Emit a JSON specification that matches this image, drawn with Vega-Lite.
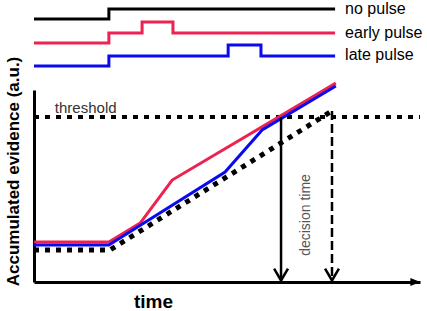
{
  "$schema": "https://vega.github.io/schema/vega-lite/v6.json",
  "width": 386,
  "height": 192,
  "autosize": "none",
  "padding": {"left": 34, "top": 90, "right": 7, "bottom": 29},
  "background": "white",
  "config": {"view": {"stroke": null}, "font": "Liberation Sans"},
  "datasets": {
    "pulses": [
      {"trace": "no pulse", "i": 0, "t": 0, "e": 137.0},
      {"trace": "no pulse", "i": 1, "t": 19.4, "e": 137.0},
      {"trace": "no pulse", "i": 2, "t": 19.4, "e": 142.2},
      {"trace": "no pulse", "i": 3, "t": 78.0, "e": 142.2},
      {"trace": "early pulse", "i": 0, "t": 0, "e": 124.5},
      {"trace": "early pulse", "i": 1, "t": 19.4, "e": 124.5},
      {"trace": "early pulse", "i": 2, "t": 19.4, "e": 129.7},
      {"trace": "early pulse", "i": 3, "t": 28.0, "e": 129.7},
      {"trace": "early pulse", "i": 4, "t": 28.0, "e": 135.4},
      {"trace": "early pulse", "i": 5, "t": 36.0, "e": 135.4},
      {"trace": "early pulse", "i": 6, "t": 36.0, "e": 129.7},
      {"trace": "early pulse", "i": 7, "t": 78.0, "e": 129.7},
      {"trace": "late pulse", "i": 0, "t": 0, "e": 112.5},
      {"trace": "late pulse", "i": 1, "t": 19.4, "e": 112.5},
      {"trace": "late pulse", "i": 2, "t": 19.4, "e": 117.7},
      {"trace": "late pulse", "i": 3, "t": 50.3, "e": 117.7},
      {"trace": "late pulse", "i": 4, "t": 50.3, "e": 123.4},
      {"trace": "late pulse", "i": 5, "t": 58.8, "e": 123.4},
      {"trace": "late pulse", "i": 6, "t": 58.8, "e": 117.7},
      {"trace": "late pulse", "i": 7, "t": 78.0, "e": 117.7}
    ],
    "evidence": [
      {"trace": "early pulse", "i": 0, "t": 0, "e": 20.8},
      {"trace": "early pulse", "i": 1, "t": 19.4, "e": 20.8},
      {"trace": "early pulse", "i": 2, "t": 27.5, "e": 30.7},
      {"trace": "early pulse", "i": 3, "t": 35.8, "e": 53.1},
      {"trace": "early pulse", "i": 4, "t": 78.2, "e": 103.6},
      {"trace": "late pulse", "i": 0, "t": 0, "e": 19.3},
      {"trace": "late pulse", "i": 1, "t": 19.4, "e": 19.3},
      {"trace": "late pulse", "i": 2, "t": 49.5, "e": 57.3},
      {"trace": "late pulse", "i": 3, "t": 59.1, "e": 79.2},
      {"trace": "late pulse", "i": 4, "t": 78.2, "e": 102.1}
    ],
    "nopulse": [
      {"i": 0, "t": 0, "e": 16.7},
      {"i": 1, "t": 19.7, "e": 16.7},
      {"i": 2, "t": 77.2, "e": 89.1}
    ],
    "threshold": [
      {"i": 0, "t": 0, "e": 85.9},
      {"i": 1, "t": 100, "e": 85.9}
    ],
    "arrows": [
      {"seg": "solid shaft", "i": 0, "t": 64.0, "e": 85.9},
      {"seg": "solid shaft", "i": 1, "t": 64.0, "e": 0.8},
      {"seg": "solid head", "i": 0, "t": 62.2, "e": 7.0},
      {"seg": "solid head", "i": 1, "t": 64.0, "e": 0.8},
      {"seg": "solid head", "i": 2, "t": 65.8, "e": 7.0},
      {"seg": "dashed head", "i": 0, "t": 75.4, "e": 7.0},
      {"seg": "dashed head", "i": 1, "t": 77.2, "e": 0.8},
      {"seg": "dashed head", "i": 2, "t": 79.0, "e": 7.0}
    ],
    "dashedshaft": [
      {"i": 0, "t": 77.2, "e": 89.1},
      {"i": 1, "t": 77.2, "e": 0.8}
    ],
    "axistip": [{"t": 98.8, "e": 0}],
    "labels": [
      {"label": "no pulse", "t": 80.6, "e": 139.8},
      {"label": "early pulse", "t": 80.6, "e": 127.3},
      {"label": "late pulse", "t": 80.6, "e": 115.4}
    ],
    "thrlabel": [{"label": "threshold", "t": 5.4, "e": 88.0}],
    "dtlabel": [{"label": "decision time", "t": 70.5, "e": 34.9}]
  },
  "encoding": {
    "x": {
      "field": "t", "type": "quantitative",
      "scale": {"domain": [0, 100], "nice": false, "zero": false},
      "axis": {
        "domain": true, "domainWidth": 3, "domainColor": "black",
        "ticks": false, "labels": false, "grid": false,
        "title": "time", "titleFont": "Liberation Sans", "titleFontSize": 19,
        "titleFontWeight": "bold", "titleColor": "black",
        "titleX": 119, "titleY": 25, "titleAlign": "center", "titleBaseline": "alphabetic"
      }
    },
    "y": {
      "field": "e", "type": "quantitative",
      "scale": {"domain": [0, 100], "nice": false, "zero": false},
      "axis": {
        "domain": true, "domainWidth": 3, "domainColor": "black",
        "ticks": false, "labels": false, "grid": false,
        "title": "Accumulated evidence (a.u.)", "titleFont": "Liberation Sans", "titleFontSize": 17,
        "titleFontWeight": "bold", "titleColor": "black", "titleAngle": 270,
        "titleX": -21, "titleY": 81, "titleAlign": "center", "titleBaseline": "middle"
      }
    }
  },
  "layer": [
    {
      "data": {"name": "pulses"},
      "mark": {"type": "line", "strokeWidth": 3, "clip": false},
      "encoding": {
        "order": {"field": "i", "type": "quantitative"},
        "color": {"field": "trace", "type": "nominal", "legend": null,
          "scale": {"domain": ["no pulse", "early pulse", "late pulse"], "range": ["#000000", "#ee2250", "#0a0af0"]}}
      }
    },
    {
      "data": {"name": "threshold"},
      "mark": {"type": "line", "strokeWidth": 4, "strokeDash": [5, 6], "color": "black"},
      "encoding": {"order": {"field": "i", "type": "quantitative"}}
    },
    {
      "data": {"name": "evidence"},
      "mark": {"type": "line", "strokeWidth": 3, "clip": false},
      "encoding": {
        "order": {"field": "i", "type": "quantitative"},
        "color": {"field": "trace", "type": "nominal", "legend": null,
          "scale": {"domain": ["no pulse", "early pulse", "late pulse"], "range": ["#000000", "#ee2250", "#0a0af0"]}}
      }
    },
    {
      "data": {"name": "nopulse"},
      "mark": {"type": "line", "strokeWidth": 5, "strokeDash": [5, 6], "color": "black"},
      "encoding": {"order": {"field": "i", "type": "quantitative"}}
    },
    {
      "data": {"name": "arrows"},
      "mark": {"type": "line", "strokeWidth": 2.5, "color": "black"},
      "encoding": {
        "detail": {"field": "seg", "type": "nominal"},
        "order": {"field": "i", "type": "quantitative"}
      }
    },
    {
      "data": {"name": "dashedshaft"},
      "mark": {"type": "line", "strokeWidth": 2.5, "strokeDash": [9, 4], "color": "black"},
      "encoding": {"order": {"field": "i", "type": "quantitative"}}
    },
    {
      "data": {"name": "axistip"},
      "mark": {"type": "point", "shape": "M -1 -0.8 L 1 0 L -1 0.8 Z", "size": 100, "filled": true, "color": "black", "opacity": 1}
    },
    {
      "data": {"name": "labels"},
      "mark": {"type": "text", "align": "left", "baseline": "alphabetic", "fontSize": 16, "font": "Liberation Sans", "color": "black"},
      "encoding": {"text": {"field": "label"}}
    },
    {
      "data": {"name": "thrlabel"},
      "mark": {"type": "text", "align": "left", "baseline": "alphabetic", "fontSize": 15, "font": "Liberation Sans", "color": "#333333"},
      "encoding": {"text": {"field": "label"}}
    },
    {
      "data": {"name": "dtlabel"},
      "mark": {"type": "text", "align": "center", "baseline": "middle", "angle": 270, "fontSize": 14, "font": "Liberation Sans", "color": "#555555"},
      "encoding": {"text": {"field": "label"}}
    }
  ]
}
